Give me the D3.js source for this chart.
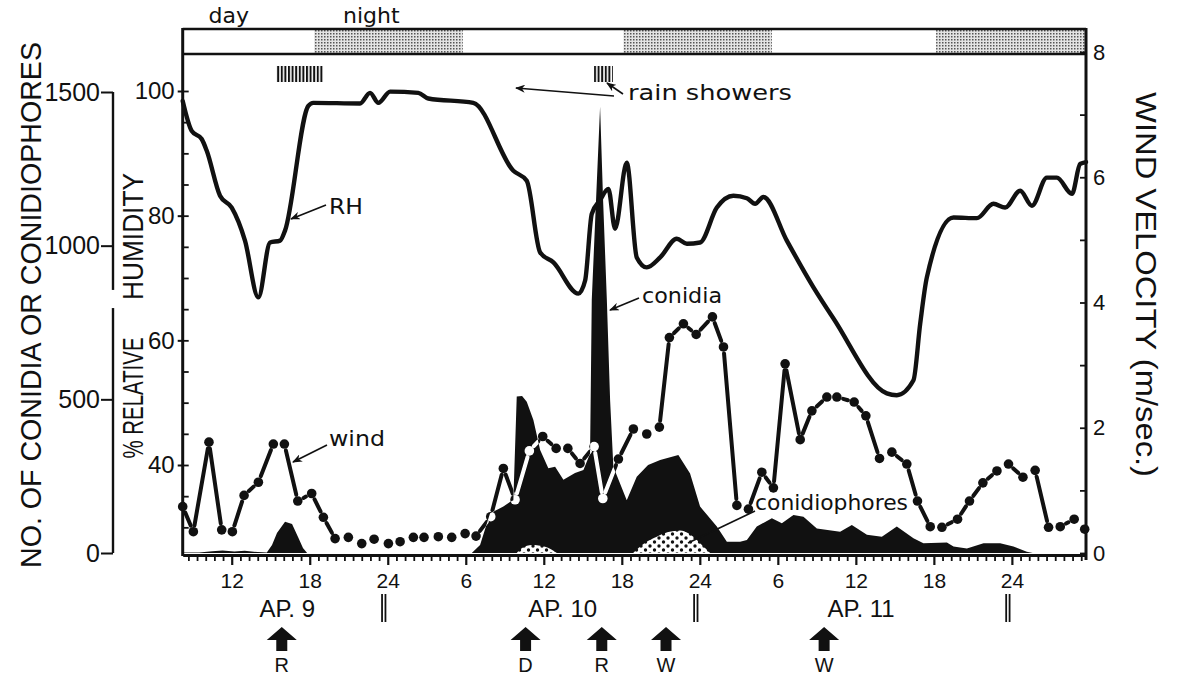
<!DOCTYPE html>
<html>
<head>
<meta charset="utf-8">
<script src="https://cdn.jsdelivr.net/npm/d3@7"></script>
<style>
  body { margin: 0; background: #fff; }
  text { font-family: "Liberation Sans", Arial, sans-serif; fill: #111; }
  .lbl { font-family: "DejaVu Sans", sans-serif; }
</style>
</head>
<body>
<svg id="chart" width="1177" height="675"></svg>
<script>
// time is counted in hours from 0:00 on Ap. 9
const rhSeries = [
  [8.23, 98.4], [8.92, 93.6], [9.69, 92.3], [10.08, 90.4], [11.1, 83.2], [12.0, 81.3],
  [13.02, 76.0], [14.05, 66.9], [14.95, 75.7], [15.72, 76.0], [16.1, 77.6], [17.89, 97.6],
  [18.28, 98.1], [21.87, 98.0], [22.64, 99.7], [23.28, 98.1], [24.18, 99.9], [26.35, 99.7],
  [27.12, 98.8], [30.58, 98.1], [33.66, 87.2], [34.69, 85.6], [35.72, 74.1], [36.74, 72.5],
  [38.66, 67.5], [39.18, 69.6], [39.69, 80.3], [40.33, 82.5], [40.97, 84.3], [41.48, 77.9],
  [42.38, 88.5], [43.15, 73.3], [43.92, 71.7], [44.95, 73.3], [46.23, 76.3], [47.0, 75.5],
  [48.02, 75.7], [49.31, 81.3], [50.58, 83.2], [51.62, 82.8], [52.25, 81.9], [52.89, 83.0],
  [54.69, 76.0], [56.74, 68.5], [58.28, 63.5], [62.38, 51.5], [63.15, 51.2], [64.43, 53.6],
  [64.95, 62.7], [65.46, 70.1], [67.51, 79.7], [69.31, 79.6], [70.58, 81.9], [71.48, 81.3],
  [72.64, 84.0], [73.54, 81.6], [74.69, 86.1], [75.46, 86.1], [76.62, 83.5], [77.25, 88.3],
  [77.7, 88.6]
];

const windSeries = [
  [8.23, 0.74], [9.05, 0.34], [10.25, 1.77], [11.23, 0.37], [12.05, 0.34], [12.95, 0.92],
  [14.05, 1.13], [15.2, 1.74], [16.05, 1.74], [17.08, 0.83], [18.15, 0.95], [19.05, 0.57],
  [19.95, 0.23], [20.97, 0.25], [22.0, 0.15], [22.95, 0.22], [24.05, 0.15], [24.95, 0.18],
  [25.97, 0.25], [26.79, 0.25], [27.89, 0.26], [28.92, 0.25], [29.95, 0.31], [30.79, 0.27],
  [31.92, 0.58], [32.89, 1.35], [33.79, 0.85], [34.89, 1.63], [35.92, 1.86], [36.95, 1.67],
  [37.85, 1.67], [38.79, 1.43], [39.87, 1.70], [40.54, 0.87], [41.74, 1.50], [42.89, 1.98],
  [43.92, 1.90], [44.89, 2.01], [45.66, 3.44], [46.74, 3.66], [47.72, 3.49], [48.97, 3.77],
  [49.82, 3.29], [50.85, 0.76], [51.74, 0.70], [52.77, 1.29], [53.66, 1.04], [54.56, 3.02],
  [55.72, 1.81], [56.62, 2.27], [57.77, 2.49], [58.54, 2.49], [59.87, 2.41], [60.77, 2.19],
  [61.82, 1.51], [62.77, 1.61], [63.92, 1.42], [64.74, 0.83], [65.72, 0.42], [66.62, 0.41],
  [67.82, 0.54], [68.74, 0.83], [69.77, 1.12], [70.85, 1.31], [71.74, 1.42], [72.85, 1.21],
  [73.79, 1.32], [74.82, 0.41], [75.72, 0.42], [76.79, 0.54], [77.6, 0.38]
];

const conidiaSeries = [
  [8.23, 2], [9.5, 2], [10.5, 6], [11.3, 8], [12.2, 5], [13.0, 7], [14.0, 3], [14.7, 2],
  [15.1, 26], [15.48, 65], [16.1, 102], [16.64, 94], [17.1, 52], [17.48, 16], [17.8, 0],
  [30.46, 0], [31.1, 26], [31.87, 129], [32.89, 151], [33.4, 166], [33.66, 172], [33.92, 509],
  [34.33, 511], [34.69, 492], [35.2, 433], [35.72, 335], [36.35, 276], [36.87, 281],
  [37.51, 238], [38.4, 260], [39.05, 270], [39.56, 324], [39.69, 823], [40.02, 1149],
  [40.33, 1452], [40.56, 1149], [40.85, 823], [41.1, 498], [41.35, 281], [42.38, 172],
  [43.15, 248], [44.02, 286], [44.95, 303], [46.35, 319], [47.25, 259], [48.02, 151],
  [49.31, 86], [50.08, 37], [51.1, 37], [51.62, 42], [52.38, 86], [53.54, 113], [54.31, 97],
  [55.2, 124], [55.97, 118], [57.0, 80], [58.79, 69], [59.69, 91], [60.85, 59], [62.0, 53],
  [63.15, 86], [64.43, 48], [65.2, 32], [67.0, 34], [67.51, 21], [68.54, 15], [69.82, 32],
  [71.1, 32], [72.12, 21], [73.15, 4], [73.6, 0], [77.7, 0]
];

const conidiophoreBumps = [
  [[33.92, 0], [34.33, 16], [35.08, 26], [36.1, 20], [37.0, 0]],
  [[42.87, 0], [43.79, 33], [44.69, 53], [45.56, 68], [46.48, 73], [47.12, 64], [48.02, 32], [48.79, 0]]
];

const nights = [[18.33, 29.77], [42.12, 53.54], [66.17, 77.7]];
const rainSpells = [[15.41, 19.05], [39.87, 41.31]];
const eventHours = [15.85, 34.6, 40.46, 45.4, 57.56];
const eventLetters = ["R", "D", "R", "W", "W"];
const dayLabels = ["AP. 9", "AP. 10", "AP. 11"];
const dayLabelHours = [16.27, 37.45, 60.4];
const dayBreakHours = [24, 48, 72];
const rhTickLabels = [40, 60, 80, 100];
const conidiaTickLabels = [0, 500, 1000, 1500];
const windTickLabels = [0, 2, 4, 6, 8];

const left = 182.7, right = 1086, plotTop = 54, plotBottom = 555, barTop = 29;
const ink = "#111";

const svg = d3.select("#chart");
const defs = svg.append("defs");

const stip = defs.append("pattern").attr("id", "stipple")
  .attr("width", 3).attr("height", 3).attr("patternUnits", "userSpaceOnUse");
stip.append("rect").attr("width", 3).attr("height", 3).attr("fill", "#e4e4e4");
stip.append("rect").attr("width", 1.5).attr("height", 1.5).attr("fill", "#555");

const hatch = defs.append("pattern").attr("id", "hatch")
  .attr("width", 3.6).attr("height", 20).attr("patternUnits", "userSpaceOnUse");
hatch.append("rect").attr("width", 2).attr("height", 20).attr("fill", ink);

const dots = defs.append("pattern").attr("id", "dots")
  .attr("width", 9).attr("height", 8).attr("patternUnits", "userSpaceOnUse");
dots.append("rect").attr("width", 9).attr("height", 8).attr("fill", "#fff");
dots.append("circle").attr("cx", 2).attr("cy", 2).attr("r", 1.7).attr("fill", ink);
dots.append("circle").attr("cx", 6.5).attr("cy", 6).attr("r", 1.7).attr("fill", ink);

// scales
const x = d3.scaleLinear().domain([8.23, 77.7]).range([left, right]);
const yRH = d3.scaleLinear().domain([40, 100]).range([465, 91]);
const yC = d3.scaleLinear().domain([0, 1500]).range([553, 92]);
const yW = d3.scaleLinear().domain([0, 8]).range([553, 52]);

// day / night bar
svg.append("g").selectAll("rect").data(nights).join("rect")
  .attr("x", d => x(d[0])).attr("width", d => x(d[1]) - x(d[0]))
  .attr("y", barTop).attr("height", plotTop - barTop)
  .attr("fill", "url(#stipple)");
svg.append("line").attr("x1", left).attr("x2", right).attr("y1", barTop).attr("y2", barTop)
  .attr("stroke", ink).attr("stroke-width", 2.6);
svg.append("line").attr("x1", left).attr("x2", right).attr("y1", plotTop).attr("y2", plotTop)
  .attr("stroke", ink).attr("stroke-width", 2.6);
svg.append("text").attr("class", "lbl").attr("x", 208.6).attr("y", 23).attr("font-size", 22).text("day");
svg.append("text").attr("class", "lbl").attr("x", 343).attr("y", 23).attr("font-size", 22).text("night");

// rain showers
svg.append("g").selectAll("rect").data(rainSpells).join("rect")
  .attr("x", d => x(d[0])).attr("width", d => x(d[1]) - x(d[0]))
  .attr("y", 66).attr("height", 16)
  .attr("fill", "url(#hatch)");

// conidia (black area)
const area = d3.area().x(d => x(d[0])).y0(yC(0)).y1(d => yC(d[1]));
svg.append("path").attr("d", area(conidiaSeries)).attr("fill", ink);
defs.append("clipPath").attr("id", "conClip").append("path").attr("d", area(conidiaSeries));

// conidiophores (dotted area)
const area2 = d3.area().x(d => x(d[0])).y0(yC(0)).y1(d => yC(d[1])).curve(d3.curveMonotoneX);
svg.append("g").selectAll("path").data(conidiophoreBumps).join("path")
  .attr("d", area2).attr("fill", "url(#dots)");

// relative humidity
const rhLine = d3.line().x(d => x(d[0])).y(d => yRH(d[1])).curve(d3.curveMonotoneX);
svg.append("path").attr("d", rhLine(rhSeries)).attr("fill", "none")
  .attr("stroke", ink).attr("stroke-width", 4.4).attr("stroke-linejoin", "round").attr("stroke-linecap", "round");

// wind: dots joined by dashes that stop short of each dot
const windPts = windSeries.map(d => [x(d[0]), yW(d[1])]);
const gap = 6.5;
const windSegs = [];
for (let i = 0; i < windPts.length - 1; i++) {
  const [x0, y0] = windPts[i], [x1, y1] = windPts[i + 1];
  const dx = x1 - x0, dy = y1 - y0, len = Math.hypot(dx, dy);
  if (len > 2 * gap + 2) {
    windSegs.push([x0 + dx / len * gap, y0 + dy / len * gap, x1 - dx / len * gap, y1 - dy / len * gap]);
  }
}
function drawWind(g, color) {
  g.selectAll("line").data(windSegs).join("line")
    .attr("x1", d => d[0]).attr("y1", d => d[1]).attr("x2", d => d[2]).attr("y2", d => d[3])
    .attr("stroke", color).attr("stroke-width", 4).attr("stroke-linecap", "round");
  g.selectAll("circle").data(windPts).join("circle")
    .attr("cx", d => d[0]).attr("cy", d => d[1]).attr("r", 4.8).attr("fill", color);
}
drawWind(svg.append("g"), ink);
drawWind(svg.append("g").attr("clip-path", "url(#conClip)"), "#fff");

// bottom time axis
const fmtHour = h => (h % 24 === 0 ? "24" : String(h % 24));
const minorTicks = d3.range(13, 117).map(i => i * 2 / 3).filter(h => h > 8.3 && h < 77.6 && Math.abs(h / 6 - Math.round(h / 6)) > 1e-6);
const gMinor = svg.append("g").attr("transform", `translate(0,${plotBottom})`)
  .call(d3.axisBottom(x).tickValues(minorTicks).tickSize(6).tickFormat("").tickSizeOuter(0));
gMinor.select(".domain").remove();
gMinor.selectAll("line").attr("stroke", ink).attr("stroke-width", 1.8);
const gMajor = svg.append("g").attr("transform", `translate(0,${plotBottom})`)
  .call(d3.axisBottom(x).tickValues(d3.range(12, 78, 6)).tickSize(10).tickPadding(8).tickFormat(fmtHour).tickSizeOuter(0));
gMajor.select(".domain").attr("stroke", ink).attr("stroke-width", 3);
gMajor.selectAll("line").attr("stroke", ink).attr("stroke-width", 2.2);
gMajor.selectAll("text").attr("font-size", 21).attr("fill", ink);

// day labels and breaks
svg.append("g").selectAll("text").data(dayLabels).join("text")
  .attr("x", (d, i) => x(dayLabelHours[i])).attr("y", 617)
  .attr("text-anchor", "middle").attr("font-size", 24).text(d => d);
const gBreak = svg.append("g").selectAll("g").data(dayBreakHours).join("g")
  .attr("transform", h => `translate(${x(h) - 4},0)`);
gBreak.append("line").attr("x1", -1.7).attr("x2", -1.7).attr("y1", 594).attr("y2", 622).attr("stroke", ink).attr("stroke-width", 1.8);
gBreak.append("line").attr("x1", 1.7).attr("x2", 1.7).attr("y1", 594).attr("y2", 622).attr("stroke", ink).attr("stroke-width", 1.8);

// event arrows
const gEv = svg.append("g").selectAll("g").data(eventHours).join("g")
  .attr("transform", h => `translate(${x(h)},0)`);
gEv.append("path").attr("d", "M-15,640 L0,627 L15,640 L5.5,640 L5.5,651 L-5.5,651 L-5.5,640 Z").attr("fill", ink);
gEv.append("text").attr("y", 672).attr("text-anchor", "middle").attr("font-size", 20)
  .text((h, i) => eventLetters[i]);

// left plot axis (relative humidity)
svg.append("line").attr("x1", left).attr("x2", left).attr("y1", barTop - 1).attr("y2", plotBottom + 1)
  .attr("stroke", ink).attr("stroke-width", 3);
const gRHminor = svg.append("g").attr("transform", `translate(${left},0)`)
  .call(d3.axisLeft(yRH).tickValues(d3.range(30, 101, 5)).tickSize(-6).tickFormat(""));
gRHminor.select(".domain").remove();
gRHminor.selectAll("line").attr("stroke", ink).attr("stroke-width", 1.8);
const gRH = svg.append("g").attr("transform", `translate(${left},0)`)
  .call(d3.axisLeft(yRH).tickValues(rhTickLabels).tickSize(5).tickPadding(3));
gRH.select(".domain").remove();
gRH.selectAll("line").attr("stroke", ink).attr("stroke-width", 2);
gRH.selectAll("text").attr("font-size", 24).attr("fill", ink);

// right axis (wind velocity)
svg.append("line").attr("x1", right).attr("x2", right).attr("y1", barTop - 1).attr("y2", plotBottom + 5)
  .attr("stroke", ink).attr("stroke-width", 3);
const gW = svg.append("g").attr("transform", `translate(${right},0)`)
  .call(d3.axisRight(yW).tickValues(d3.range(0, 9, 1)).tickSize(-6).tickPadding(7)
    .tickFormat(v => windTickLabels.includes(v) ? v : ""));
gW.select(".domain").remove();
gW.selectAll("line").attr("stroke", ink).attr("stroke-width", 1.8);
gW.selectAll("text").attr("font-size", 22).attr("fill", ink);

// separate conidia axis
const cx = 113;
svg.append("line").attr("x1", cx).attr("x2", cx).attr("y1", yC(1500)).attr("y2", yC(856))
  .attr("stroke", ink).attr("stroke-width", 2.4);
svg.append("line").attr("x1", cx).attr("x2", cx).attr("y1", yC(797)).attr("y2", yC(0))
  .attr("stroke", ink).attr("stroke-width", 2.4);
const gC = svg.append("g").attr("transform", `translate(${cx},0)`)
  .call(d3.axisLeft(yC).tickValues(conidiaTickLabels).tickSize(12).tickPadding(1).tickFormat(d3.format("d")));
gC.select(".domain").remove();
gC.selectAll("line").attr("stroke", ink).attr("stroke-width", 2);
gC.selectAll("text").attr("font-size", 25).attr("fill", ink);

// axis titles
svg.append("text").attr("transform", "translate(41,305) rotate(-90)").attr("text-anchor", "middle")
  .attr("font-size", 29).attr("textLength", 526).attr("lengthAdjust", "spacingAndGlyphs")
  .text("NO. OF CONIDIA OR CONIDIOPHORES");
svg.append("text").attr("transform", "translate(143,398) rotate(-90)").attr("text-anchor", "middle")
  .attr("font-size", 29).attr("textLength", 121).attr("lengthAdjust", "spacingAndGlyphs")
  .text("% RELATIVE");
svg.append("text").attr("transform", "translate(143,236.5) rotate(-90)").attr("text-anchor", "middle")
  .attr("font-size", 29).attr("textLength", 127).attr("lengthAdjust", "spacingAndGlyphs")
  .text("HUMIDITY");
svg.append("text").attr("transform", "translate(1136,284.5) rotate(90)").attr("text-anchor", "middle")
  .attr("font-size", 30).attr("textLength", 385).attr("lengthAdjust", "spacingAndGlyphs")
  .text("WIND VELOCITY (m/sec.)");

// annotations
defs.append("marker").attr("id", "head").attr("viewBox", "0 0 10 8")
  .attr("refX", 9).attr("refY", 4).attr("markerWidth", 10).attr("markerHeight", 8)
  .attr("markerUnits", "userSpaceOnUse").attr("orient", "auto")
  .append("path").attr("d", "M0,0 L10,4 L0,8 L3,4 Z").attr("fill", ink);

const notes = [
  { t: "rain showers", x: 628, y: 100, len: 164 },
  { t: "RH", x: 329, y: 214, len: 34 },
  { t: "wind", x: 329, y: 446, len: 56 },
  { t: "conidia", x: 642, y: 303, len: 80 },
  { t: "conidiophores", x: 755, y: 510, len: 153 }
];
svg.append("g").selectAll("text").data(notes).join("text")
  .attr("class", "lbl").attr("x", d => d.x).attr("y", d => d.y).attr("font-size", 22)
  .attr("textLength", d => d.len).attr("lengthAdjust", "spacingAndGlyphs").text(d => d.t);

const pointers = [
  [614, 96, 516, 88, true], [623, 94, 607, 83, true], [326, 205, 291, 219, true],
  [327, 445, 293, 462, true], [639, 298, 610, 310, true], [755, 511, 688, 543, false]
];
svg.append("g").selectAll("line").data(pointers).join("line")
  .attr("x1", d => d[0]).attr("y1", d => d[1]).attr("x2", d => d[2]).attr("y2", d => d[3])
  .attr("stroke", ink).attr("stroke-width", 1.6)
  .attr("marker-end", d => d[4] ? "url(#head)" : null);
</script>
</body>
</html>
